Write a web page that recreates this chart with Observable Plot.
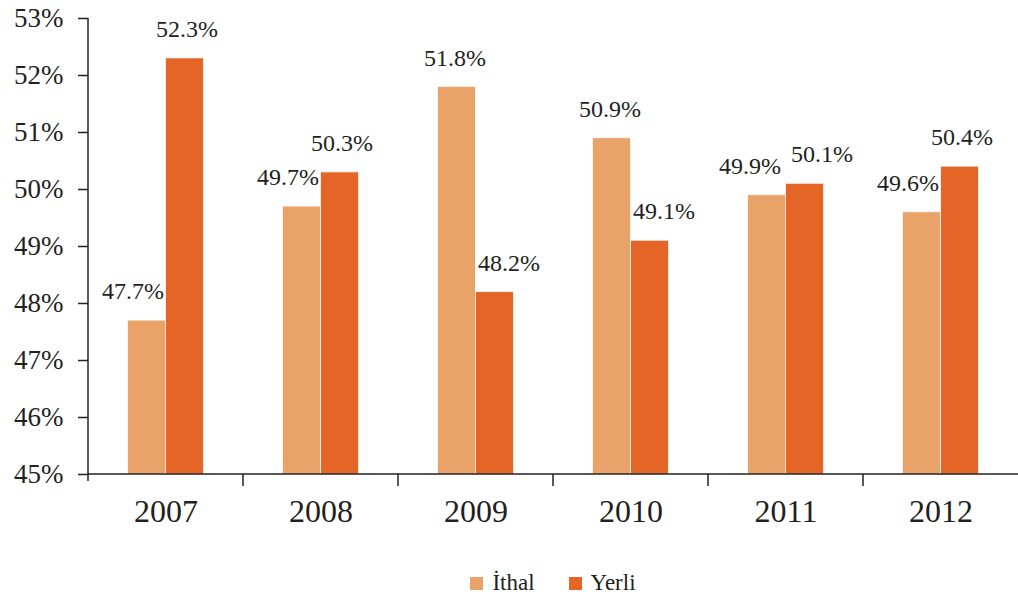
<!DOCTYPE html>
<html>
<head>
<meta charset="utf-8">
<script src="https://cdn.jsdelivr.net/npm/d3@7"></script>
<script src="https://cdn.jsdelivr.net/npm/@observablehq/plot@0.6"></script>
<style>
  html, body { margin: 0; padding: 0; background: #fff; }
  #wrap { position: relative; width: 1018px; height: 600px; font-family: 'Liberation Serif', serif; color: #231f20; }
  #wrap svg text { font-family: 'Liberation Serif', serif; font-variant: normal; }
  #legend { position: absolute; left: 88px; right: 0; top: 568px; height: 30px; display: flex; justify-content: center; align-items: center; font-size: 23px; font-family: 'Liberation Serif', serif; }
  #legend .item { display: flex; align-items: center; margin: 0 17px; }
  #legend .sw { width: 13px; height: 13px; margin-right: 9px; }
</style>
</head>
<body>
<div id="wrap"></div>
<script>
// Yıllara göre ithal ve yerli payları (%)
const years = ["2007", "2008", "2009", "2010", "2011", "2012"];
const seriesNames = ["İthal", "Yerli"];
const ithal = [47.7, 49.7, 51.8, 50.9, 49.9, 49.6];
const yerli = [52.3, 50.3, 48.2, 49.1, 50.1, 50.4];
const yTicks = [45, 46, 47, 48, 49, 50, 51, 52, 53];
const colors = ["#E9A369", "#E46526"];

const rows = [];
years.forEach((year, i) => {
  const close = Math.abs(ithal[i] - yerli[i]) <= 0.3;
  rows.push({year, series: seriesNames[0], value: ithal[i], shift: close ? 17 : ithal[i] < yerli[i] ? 14 : 2});
  rows.push({year, series: seriesNames[1], value: yerli[i], shift: close ? 17 : yerli[i] < ithal[i] ? 14 : 2});
});

const width = 1018, height = 560;
const marginLeft = 88, marginRight = 0, marginTop = 18, marginBottom = 86;
const band = (width - marginLeft - marginRight) / years.length;
const barW = 38;
const ink = "#231f20";
const serif = "'Liberation Serif', serif";

// Axis lines and category separators drawn from the scales
function axisLines(index, scales, values, dims) {
  const g = d3.create("svg:g").attr("stroke", ink).attr("stroke-width", 1.5);
  const y0 = scales.y(45), y1 = scales.y(53);
  const xs = dims.marginLeft, xe = dims.width - dims.marginRight;
  g.append("line").attr("x1", xs).attr("x2", xs).attr("y1", y1).attr("y2", y0 + 7);
  g.append("line").attr("x1", xs).attr("x2", xe).attr("y1", y0).attr("y2", y0);
  years.slice(1).forEach(yr => {
    const x = scales.x(yr);
    g.append("line").attr("x1", x).attr("x2", x).attr("y1", y0).attr("y2", y0 + 12);
  });
  return g.node();
}

// Value labels: nudged outward from the pair so neighbouring labels stay apart
const labelMarks = [];
seriesNames.forEach((s, si) => {
  const sign = si === 0 ? -1 : 1;
  [17, 14, 2].forEach(shift => {
    labelMarks.push(Plot.text(rows.filter(d => d.series === s && d.shift === shift), {
      x: "year",
      y: "value",
      text: d => d.value.toFixed(1) + "%",
      dx: sign * (barW / 2 + shift),
      dy: -29,
      fontSize: 24,
      fontFamily: serif,
      fontVariant: "normal",
      fill: ink,
      lineAnchor: "middle"
    }));
  });
});

const chart = Plot.plot({
  width, height, marginLeft, marginRight, marginTop, marginBottom,
  style: {fontFamily: serif, color: ink, background: "white", overflow: "visible"},
  x: {domain: years, padding: 0, axis: null},
  y: {domain: [45, 53], axis: null},
  color: {domain: seriesNames, range: colors},
  marks: [
    Plot.barY(rows.filter(d => d.series === seriesNames[0]), {
      x: "year", y1: 45, y2: "value", fill: "series",
      insetLeft: band / 2 - barW, insetRight: band / 2,
      stroke: "white", strokeWidth: 1, strokeOpacity: 0.7
    }),
    Plot.barY(rows.filter(d => d.series === seriesNames[1]), {
      x: "year", y1: 45, y2: "value", fill: "series",
      insetLeft: band / 2, insetRight: band / 2 - barW,
      stroke: "white", strokeWidth: 1, strokeOpacity: 0.7
    }),
    Plot.axisY({ticks: yTicks, tickFormat: d => d + "%", tickSize: 10, tickPadding: 15, fontSize: 27,
      fontFamily: serif, fontVariant: "normal", strokeWidth: 1.5, label: null}),
    Plot.axisX({tickSize: 0, tickPadding: 25, fontSize: 32, fontFamily: serif, label: null}),
    axisLines,
    ...labelMarks
  ]
});

const wrap = document.getElementById("wrap");
wrap.appendChild(chart);

const legend = document.createElement("div");
legend.id = "legend";
seriesNames.forEach((s, i) => {
  const item = document.createElement("div");
  item.className = "item";
  const sw = document.createElement("span");
  sw.className = "sw";
  sw.style.background = colors[i];
  const label = document.createElement("span");
  label.textContent = s;
  item.appendChild(sw);
  item.appendChild(label);
  legend.appendChild(item);
});
wrap.appendChild(legend);
</script>
</body>
</html>
